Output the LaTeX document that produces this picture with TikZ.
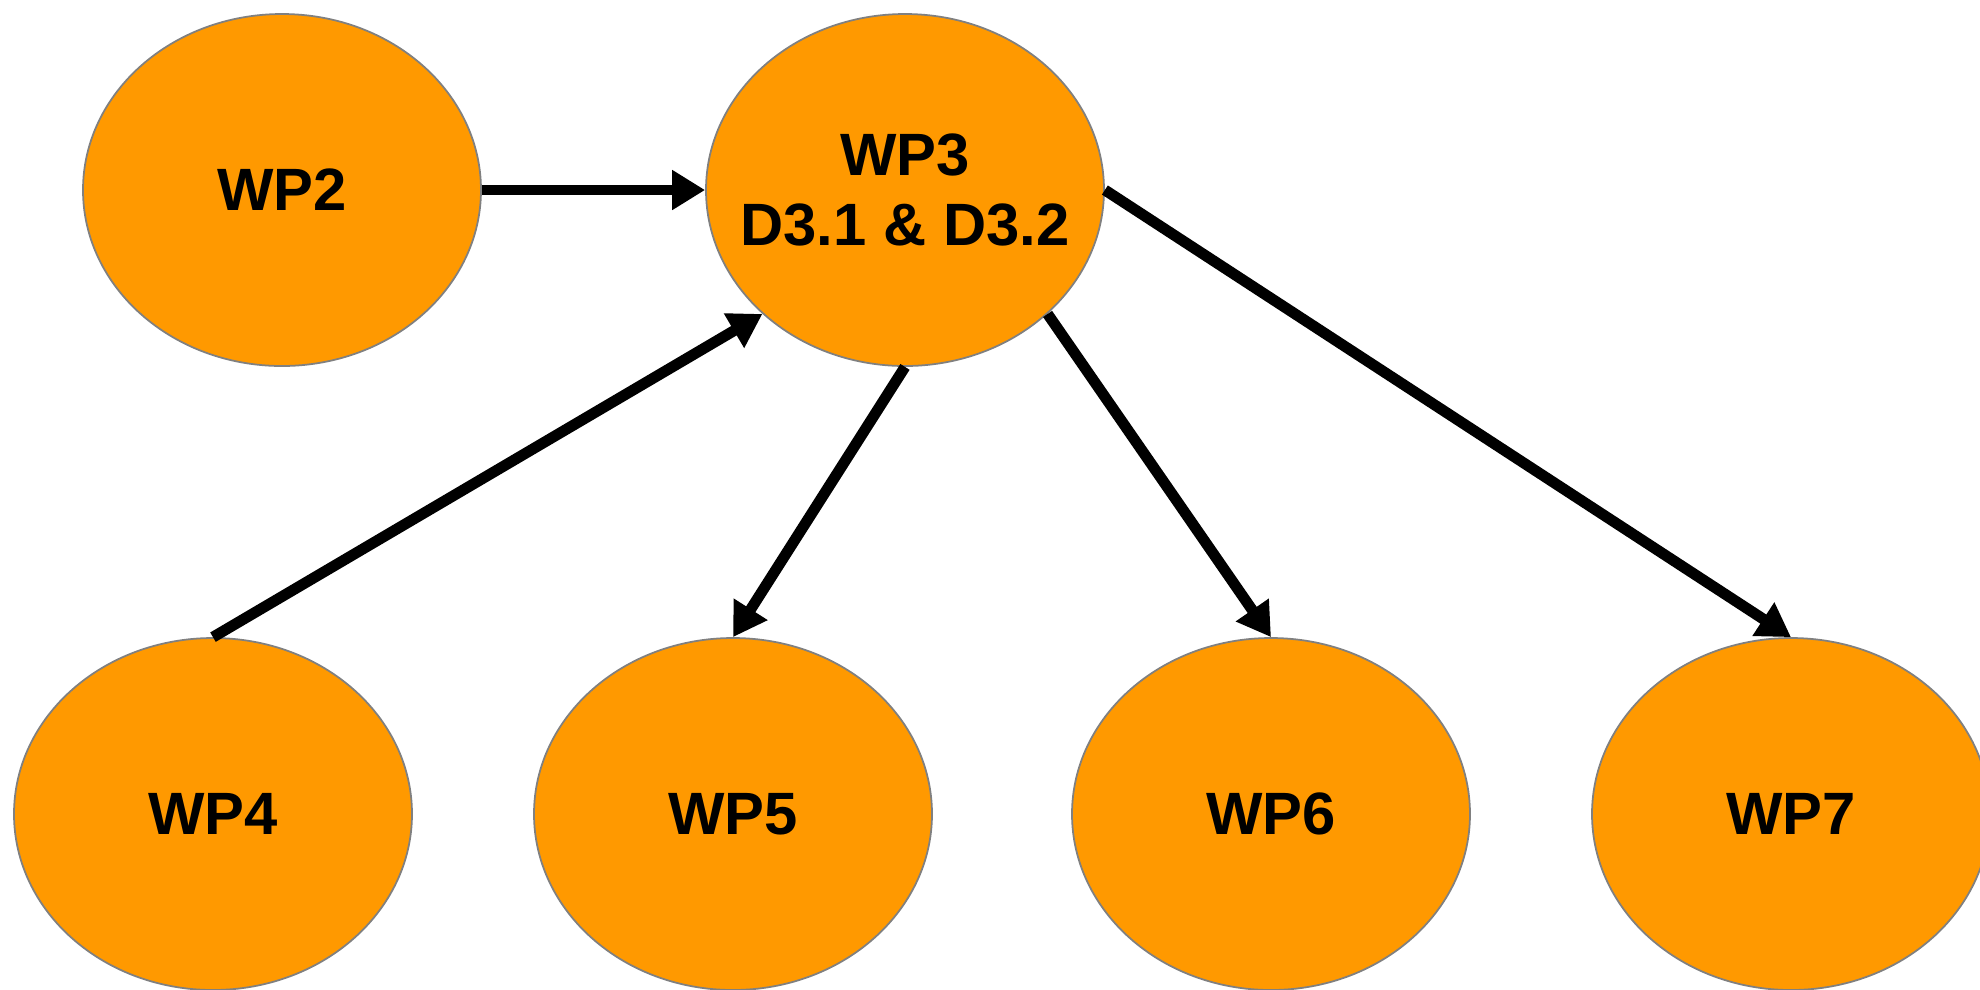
\documentclass[tikz,border=0pt]{standalone}
\usepackage{fontspec}
\setmainfont{Liberation Sans}
\usetikzlibrary{shapes.geometric,arrows.meta}
\definecolor{wporange}{RGB}{255,153,0}
\definecolor{wpedge}{RGB}{128,128,128}
\begin{document}
\begin{tikzpicture}[
  wp/.style={ellipse,draw=wpedge,line width=0.5pt,fill=wporange,minimum width=3.98cm,minimum height=3.52cm,inner xsep=-0.5cm,inner ysep=0pt,align=center,font=\fontsize{17}{20}\selectfont\bfseries},
  link/.style={line width=3.1pt,-{Triangle[length=9.4pt,width=10.8pt]}}]
\useasboundingbox (0,0) rectangle (19.8,-9.89);
\node[wp] (wp2) at (2.82,-1.90) {WP2};
\node[wp] (wp3) at (9.05,-1.90) {WP3\\D3.1 \& D3.2};
\node[wp] (wp4) at (2.13,-8.14) {WP4};
\node[wp] (wp5) at (7.33,-8.14) {WP5};
\node[wp] (wp6) at (12.71,-8.14) {WP6};
\node[wp] (wp7) at (17.91,-8.14) {WP7};
\draw[link] (wp2.east) -- (wp3.west);
\draw[link] (wp4.north) -- (wp3.221);
\draw[link] (wp3.south) -- (wp5.north);
\draw[link] (wp3.-41) -- (wp6.north);
\draw[link] (wp3.east) -- (wp7.north);
\end{tikzpicture}
\end{document}
